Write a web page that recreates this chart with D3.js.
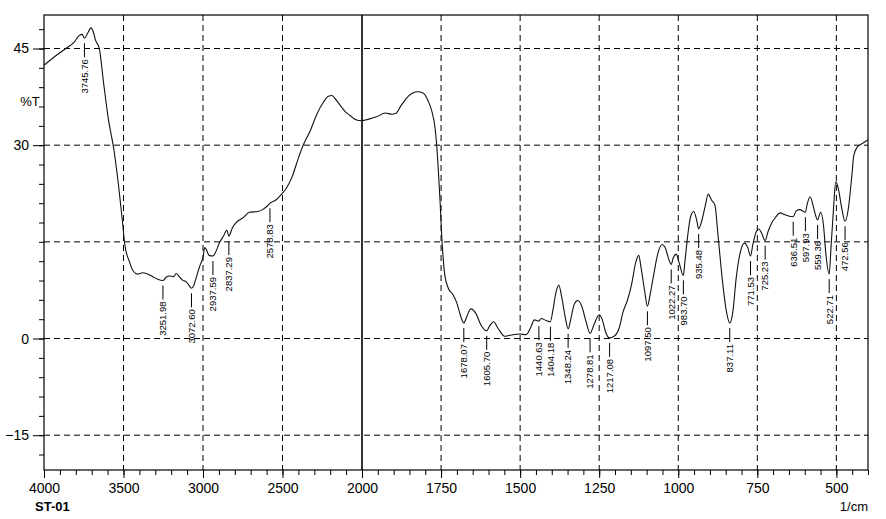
<!DOCTYPE html>
<html>
<head>
<meta charset="utf-8">
<script src="https://cdn.jsdelivr.net/npm/d3@7"></script>
<style>
  html, body { margin: 0; padding: 0; background: #ffffff; }
  svg { display: block; }
  text { font-family: "Liberation Sans", Arial, sans-serif; fill: #000; }
</style>
</head>
<body>
<svg id="chart" width="886" height="519"></svg>
<script>
// ---- data ----
const wavenumbers = [4000,3930,3863,3810,3779,3760,3745.76,3725,3705,3690,3676,3652,3625,3596,3558,3531,3508,3492,3464,3437,3411,3380,3348,3316,3285,3251.98,3232,3211,3185,3168,3152,3131,3106,3089,3072.6,3059,3042,3021,3000,2989,2979,2962,2937.59,2917,2896,2871,2850,2837.29,2815,2792,2750,2708,2656,2625,2594,2578.83,2542,2510,2479,2441,2400,2368,2326,2284,2242,2211,2190,2159,2128,2106,2075,2043,2000,1981,1954,1926,1905,1894,1877,1861,1840,1824,1807,1791,1780,1769,1764,1759,1753,1748,1744,1738,1727,1712,1700,1690,1678.07,1668,1656,1640,1624,1605.7,1597,1584,1570,1549,1533,1501,1481,1465,1455,1440.63,1434,1418,1404.18,1397,1386,1378,1368,1357,1348.24,1339,1329,1318,1305,1292,1278.81,1266,1250,1240,1229,1217.08,1203,1187,1174,1161,1148,1134,1125,1117,1106,1097.5,1089,1078,1065,1051,1041,1032,1022.27,1016,1006,998,983.7,979,969,961,951,941,935.48,926,915,905,895,884,874,861,848,837.11,827,817,801,791,780,771.53,764,753,745,737,725.23,716,705,694,678,662,636.51,627,616,597.93,593,583,573,565,559.36,550,541,533,522.71,517,509,502,494,483,472.56,462,451,445,434,420,411,400];
const transmittance = [42.4,43.8,45.0,46.0,47.0,47.2,46.6,47.4,48.2,47.6,46.3,45.0,39.6,34.2,28.9,23.7,18.5,14.6,12.0,10.4,10.0,10.2,10.0,9.6,9.2,9.0,9.5,9.7,9.6,10.1,9.7,9.1,8.8,8.3,7.8,8.2,9.5,11.2,12.6,14.1,13.8,12.9,12.8,13.6,14.9,15.9,16.8,15.9,17.2,18.0,18.7,19.6,19.7,20.0,20.6,21.0,21.5,22.3,23.2,25.0,28.0,30.1,32.2,34.8,36.7,37.6,37.7,36.9,35.9,35.2,34.6,34.0,33.8,34.0,34.4,35.0,34.8,34.9,36.1,37.2,38.1,38.3,38.1,36.9,35.4,32.7,30.1,26.4,21.2,16.0,12.9,9.8,7.8,6.8,5.5,3.8,2.4,3.5,4.6,3.9,2.1,1.2,1.9,2.6,1.6,0.35,0.5,0.7,0.6,1.9,2.9,2.7,3.1,2.8,2.6,4.2,7.3,8.3,6.3,3.2,1.5,3.2,5.3,5.9,5.0,2.7,0.8,2.2,3.7,2.9,0.9,0.1,0.35,1.6,4.2,5.9,8.3,11.9,12.9,10.8,7.3,5.0,6.8,9.8,13.1,14.6,14.1,12.6,11.5,12.5,13.1,11.9,9.8,11.9,16.4,18.9,19.7,18.2,17.0,18.2,20.5,22.4,21.5,20.7,15.9,9.3,4.3,2.4,4.3,9.3,13.9,14.8,14.1,12.8,14.6,16.6,17.0,16.4,15.2,16.6,17.9,18.7,19.5,19.2,18.9,19.8,20.0,19.6,20.7,22.0,20.5,19.0,18.4,19.6,17.7,13.0,10.0,14.1,20.2,24.3,23.3,20.2,18.2,20.2,25.3,28.4,29.7,30.2,30.5,30.8];

const peakWavenumbers = [3745.76,3251.98,3072.60,2937.59,2837.29,2578.83,1678.07,1605.70,1440.63,1404.18,1348.24,1278.81,1217.08,1097.50,1022.27,983.70,935.48,837.11,771.53,725.23,636.51,597.93,559.36,522.71,472.56];
const peakLabels = ["3745.76","3251.98","3072.60","2937.59","2837.29","2578.83","1678.07","1605.70","1440.63","1404.18","1348.24","1278.81","1217.08","1097.50","1022.27","983.70","935.48","837.11","771.53","725.23","636.51","597.93","559.36","522.71","472.56"];

const xMajorTicks = [4000,3500,3000,2500,2000,1750,1500,1250,1000,750,500];
const xMinorTicks = d3.range(4000, 2000, -100).concat(d3.range(2000, 399, -50));
const yLabelTicks = [45,30,0,-15];
const yGridTicks = [45,30,15,0,-15];
const yMinorTicks = d3.range(-18, 49, 3);
const xGridTicks = [3500,3000,2500,1750,1500,1250,1000,750,500];
const yAxisTitle = "%T";
const xAxisTitle = "1/cm";
const sampleName = "ST-01";

// ---- layout ----
const svg = d3.select("#chart");
const L = 44, R = 868, T = 15, B = 470;
const x = d3.scaleLinear().domain([4000, 2000, 400]).range([L, 362, R]);
const y = d3.scaleLinear().domain([-20.4, 50.2]).range([B, T]);

// grid
const grid = svg.append("g");
grid.selectAll("line.hg").data(yGridTicks).join("line")
  .attr("x1", L).attr("x2", R).attr("y1", d => y(d)).attr("y2", d => y(d))
  .attr("stroke", "#000").attr("stroke-width", 1).attr("stroke-dasharray", "6,4");
grid.selectAll("line.vg").data(xGridTicks).join("line")
  .attr("x1", d => x(d)).attr("x2", d => x(d)).attr("y1", T).attr("y2", B)
  .attr("stroke", "#000").attr("stroke-width", 1).attr("stroke-dasharray", "6,4");
grid.append("line")
  .attr("x1", x(2000)).attr("x2", x(2000)).attr("y1", T).attr("y2", B)
  .attr("stroke", "#000").attr("stroke-width", 1.6);

// frame
svg.append("rect").attr("x", L).attr("y", T).attr("width", R - L).attr("height", B - T)
  .attr("fill", "none").attr("stroke", "#000").attr("stroke-width", 1.2);

// x axis
const xMinor = svg.append("g").attr("transform", `translate(0,${B})`)
  .call(d3.axisBottom(x).tickValues(xMinorTicks).tickSize(5).tickFormat(""));
xMinor.select(".domain").remove();
const xMajor = svg.append("g").attr("transform", `translate(0,${B})`)
  .call(d3.axisBottom(x).tickValues(xMajorTicks).tickSize(8).tickPadding(5).tickFormat(d3.format("d")));
xMajor.select(".domain").remove();
xMajor.selectAll("text").attr("font-size", 14).attr("font-family", "Liberation Sans, Arial, sans-serif").attr("fill", "#000");
svg.selectAll(".tick line").attr("stroke", "#000");

// y axis
const yMinor = svg.append("g").attr("transform", `translate(${L},0)`)
  .call(d3.axisLeft(y).tickValues(yMinorTicks).tickSize(5).tickFormat(""));
yMinor.select(".domain").remove();
const yMajor = svg.append("g").attr("transform", `translate(${L},0)`)
  .call(d3.axisLeft(y).tickValues(yLabelTicks).tickSize(11).tickPadding(4).tickFormat(d3.format("d")));
yMajor.select(".domain").remove();
yMajor.selectAll("text").attr("font-size", 14).attr("font-family", "Liberation Sans, Arial, sans-serif").attr("fill", "#000");
svg.selectAll(".tick line").attr("stroke", "#000");

// titles
svg.append("text").attr("x", 30).attr("y", 106).attr("text-anchor", "middle")
  .attr("font-size", 13).text(yAxisTitle);
svg.append("text").attr("x", R).attr("y", 511).attr("text-anchor", "end")
  .attr("font-size", 13).text(xAxisTitle);
svg.append("text").attr("x", 35).attr("y", 511).attr("text-anchor", "start")
  .attr("font-size", 13).attr("font-weight", "bold").text(sampleName);

// spectrum
const pts = wavenumbers.map((w, i) => [w, transmittance[i]]);
const line = d3.line().x(d => x(d[0])).y(d => y(d[1])).curve(d3.curveMonotoneX);
svg.append("path").datum(pts).attr("d", line)
  .attr("fill", "none").attr("stroke", "#111").attr("stroke-width", 1.1);

// peak annotations
function valueAt(w) {
  for (let i = 0; i < wavenumbers.length - 1; i++) {
    const a = wavenumbers[i], b = wavenumbers[i + 1];
    if (w <= a && w >= b) {
      const t = (a - w) / (a - b);
      return transmittance[i] + t * (transmittance[i + 1] - transmittance[i]);
    }
  }
  return transmittance[transmittance.length - 1];
}
const pk = svg.append("g");
peakWavenumbers.forEach((w, i) => {
  const px = x(w), py = y(valueAt(w));
  pk.append("line").attr("x1", px).attr("x2", px).attr("y1", py + 5).attr("y2", py + 19)
    .attr("stroke", "#000").attr("stroke-width", 1);
  pk.append("text")
    .attr("transform", `translate(${px},${py + 21}) rotate(-90)`)
    .attr("text-anchor", "end").attr("dy", "0.35em")
    .attr("font-size", 9.5).text(peakLabels[i]);
});
</script>
</body>
</html>
